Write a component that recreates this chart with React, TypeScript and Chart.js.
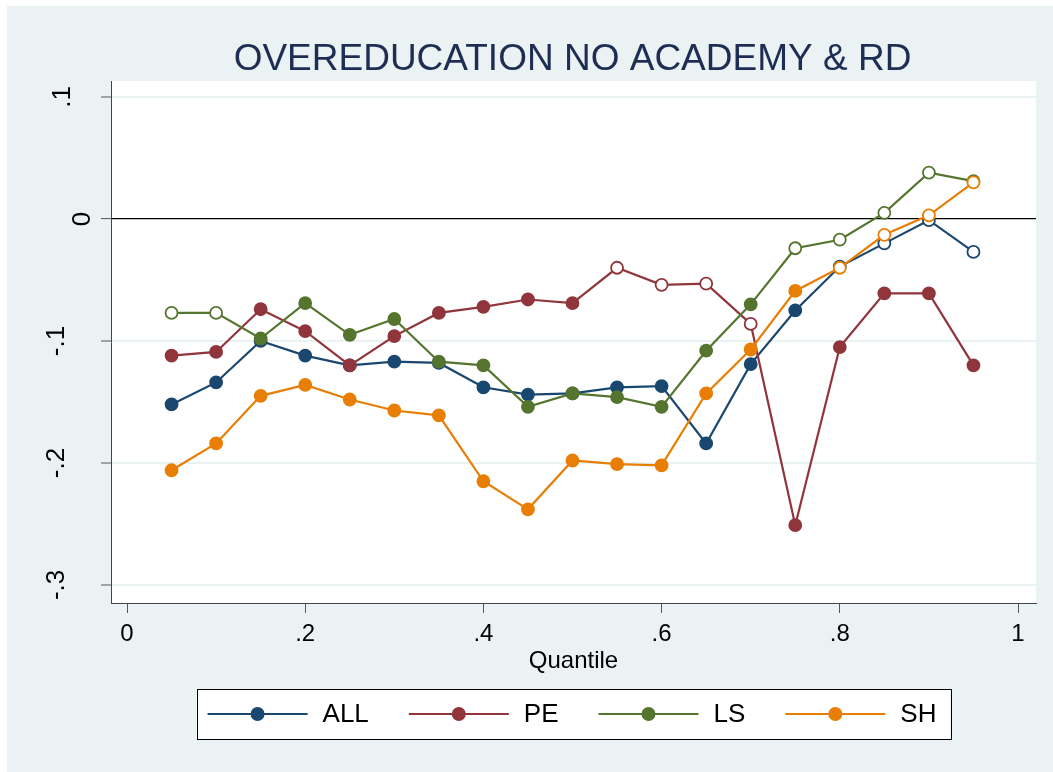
import React, { useEffect, useRef } from 'react';
import { Chart, registerables } from 'chart.js';

Chart.register(...registerables);

const chartTitle = 'OVEREDUCATION NO ACADEMY & RD';
const xAxisTitle = 'Quantile';

const quantiles = [0.05, 0.1, 0.15, 0.2, 0.25, 0.3, 0.35, 0.4, 0.45, 0.5, 0.55, 0.6, 0.65, 0.7, 0.75, 0.8, 0.85, 0.9, 0.95];

const allValues = [-0.152, -0.134, -0.100, -0.112, -0.120, -0.117, -0.118, -0.138, -0.144, -0.143, -0.138, -0.137, -0.184, -0.119, -0.075, -0.039, -0.020, -0.001, -0.027];
const peValues = [-0.112, -0.109, -0.074, -0.092, -0.120, -0.096, -0.077, -0.072, -0.066, -0.069, -0.040, -0.054, -0.053, -0.086, -0.251, -0.105, -0.061, -0.061, -0.120];
const lsValues = [-0.077, -0.077, -0.098, -0.069, -0.095, -0.082, -0.117, -0.120, -0.154, -0.143, -0.146, -0.154, -0.108, -0.070, -0.024, -0.017, 0.005, 0.038, 0.031];
const shValues = [-0.206, -0.184, -0.145, -0.136, -0.148, -0.157, -0.161, -0.215, -0.238, -0.198, -0.201, -0.202, -0.143, -0.107, -0.059, -0.040, -0.013, 0.003, 0.030];

// true = hollow marker (not significant)
const allHollow = [false, false, false, false, false, false, false, false, false, false, false, false, false, false, false, true, true, true, true];
const peHollow = [false, false, false, false, false, false, false, false, false, false, true, true, true, true, false, false, false, false, false];
const lsHollow = [true, true, false, false, false, false, false, false, false, false, false, false, false, false, true, true, true, true, true];
const shHollow = [false, false, false, false, false, false, false, false, false, false, false, false, false, false, false, true, true, true, true];

const seriesNames = ['ALL', 'PE', 'LS', 'SH'];
const seriesColors = ['#1a476f', '#90353b', '#55752f', '#e87e04'];

const xTicks = [0, 0.2, 0.4, 0.6, 0.8, 1];
const xTickLabels = ['0', '.2', '.4', '.6', '.8', '1'];
const yTicks = [-0.3, -0.2, -0.1, 0, 0.1];
const yTickLabels = ['-.3', '-.2', '-.1', '0', '.1'];

const FONT = '"Liberation Sans", Arial, Helvetica, sans-serif';
const BG = '#eaf2f3';

const seriesValues = [allValues, peValues, lsValues, shValues];
const seriesHollow = [allHollow, peHollow, lsHollow, shHollow];

const decorPlugin = {
  id: 'decor',
  beforeDraw(chart: any) {
    const { ctx, chartArea, width, height } = chart;
    ctx.save();
    ctx.fillStyle = '#ffffff';
    ctx.fillRect(0, 0, width, height);
    ctx.fillStyle = BG;
    ctx.fillRect(7, 6, width - 7, height - 6);
    ctx.fillStyle = '#ffffff';
    ctx.fillRect(chartArea.left, chartArea.top, chartArea.right - chartArea.left, chartArea.bottom - chartArea.top);
    ctx.restore();
  },
  afterDraw(chart: any) {
    const { ctx, chartArea } = chart;
    const cx = (chartArea.left + chartArea.right) / 2;
    ctx.save();
    // title
    ctx.fillStyle = '#1e2d53';
    ctx.font = `37px ${FONT}`;
    ctx.textAlign = 'center';
    ctx.textBaseline = 'alphabetic';
    ctx.fillText(chartTitle, cx - 1, 70);

    // y tick labels, rotated
    const yScale = chart.scales.y;
    const baselineByLen: Record<number, number> = { 1: 90, 2: 70, 3: 64 };
    ctx.fillStyle = '#000';
    ctx.font = `26px ${FONT}`;
    yTicks.forEach((v, i) => {
      const label = yTickLabels[i];
      const py = yScale.getPixelForValue(v);
      const bx = baselineByLen[label.length] ?? 64;
      ctx.save();
      ctx.translate(bx, py);
      ctx.rotate(-Math.PI / 2);
      ctx.textAlign = 'center';
      ctx.textBaseline = 'alphabetic';
      ctx.fillText(label, 0, 0);
      ctx.restore();
    });

    // x axis title
    ctx.font = `24px ${FONT}`;
    ctx.textAlign = 'center';
    ctx.textBaseline = 'alphabetic';
    ctx.fillText(xAxisTitle, cx, 668);

    // legend
    ctx.font = `26px ${FONT}`;
    const lineLen = 100;
    const textGap = 15;
    const itemGap = 40;
    const widths = seriesNames.map((n) => ctx.measureText(n).width);
    const content = widths.reduce((a, w) => a + lineLen + textGap + w, 0) + itemGap * (seriesNames.length - 1);
    const padL = 11;
    const padR = 14;
    const boxW = content + padL + padR;
    const boxX = cx - boxW / 2;
    const boxY = 689;
    const boxH = 50;
    const my = boxY + boxH / 2;
    ctx.fillStyle = '#ffffff';
    ctx.fillRect(boxX, boxY, boxW, boxH);
    ctx.strokeStyle = '#000';
    ctx.lineWidth = 1;
    ctx.strokeRect(Math.round(boxX) + 0.5, boxY + 0.5, Math.round(boxW), boxH);
    let x = boxX + padL;
    seriesNames.forEach((name, i) => {
      const color = seriesColors[i];
      ctx.strokeStyle = color;
      ctx.lineWidth = 2.2;
      ctx.beginPath();
      ctx.moveTo(x, my);
      ctx.lineTo(x + lineLen, my);
      ctx.stroke();
      ctx.fillStyle = color;
      ctx.beginPath();
      ctx.arc(x + lineLen / 2, my, 7, 0, Math.PI * 2);
      ctx.fill();
      ctx.fillStyle = '#000';
      ctx.textAlign = 'left';
      ctx.textBaseline = 'middle';
      ctx.fillText(name, x + lineLen + textGap, my + 1);
      x += lineLen + textGap + widths[i] + itemGap;
    });
    ctx.restore();
  },
};

export default function App() {
  const canvasRef = useRef<HTMLCanvasElement | null>(null);

  useEffect(() => {
    const canvas = canvasRef.current;
    if (!canvas) return;
    const datasets = seriesNames.map((name, si) => {
      const color = seriesColors[si];
      const hollow = seriesHollow[si];
      return {
        label: name,
        data: quantiles.map((q, i) => ({ x: q, y: seriesValues[si][i] })),
        borderColor: color,
        borderWidth: 2.2,
        backgroundColor: color,
        pointRadius: 6,
        pointBorderWidth: 1.8,
        pointBorderColor: color,
        pointBackgroundColor: (c: any) => (hollow[c.dataIndex] ? '#ffffff' : color),
        tension: 0,
        fill: false,
        order: seriesNames.length - si,
      };
    });

    const chart = new Chart(canvas, {
      type: 'line',
      data: { datasets },
      options: {
        animation: false,
        responsive: false,
        devicePixelRatio: 1,
        layout: { padding: { left: 0, top: 81, right: 17, bottom: 0 } },
        plugins: {
          legend: { display: false },
          title: { display: false },
          tooltip: { enabled: false },
        },
        scales: {
          x: {
            type: 'linear',
            min: -0.01796,
            max: 1.0202,
            afterBuildTicks: (scale: any) => {
              scale.ticks = xTicks.map((v) => ({ value: v }));
            },
            afterFit: (scale: any) => {
              scale.height = 169;
            },
            ticks: {
              autoSkip: false,
              maxRotation: 0,
              minRotation: 0,
              padding: 7,
              color: '#000',
              font: { size: 24, family: FONT },
              callback: (_v: any, i: number) => xTickLabels[i],
            },
            grid: {
              drawOnChartArea: false,
              drawTicks: true,
              tickLength: 10,
              tickColor: '#555',
              tickWidth: 1,
            },
            border: { color: '#444', width: 1 },
          },
          y: {
            type: 'linear',
            min: -0.3148,
            max: 0.1131,
            afterBuildTicks: (scale: any) => {
              scale.ticks = yTicks.map((v) => ({ value: v }));
            },
            afterFit: (scale: any) => {
              scale.width = 111;
            },
            ticks: { display: false },
            grid: {
              drawOnChartArea: true,
              drawTicks: true,
              tickLength: 10,
              tickColor: '#555',
              tickWidth: 1,
              color: (c: any) => (c.tick && c.tick.value === 0 ? '#000000' : BG),
              lineWidth: (c: any) => (c.tick && c.tick.value === 0 ? 1.2 : 2),
            },
            border: { color: '#444', width: 1 },
          },
        },
      },
      plugins: [decorPlugin],
    });

    return () => {
      chart.destroy();
    };
  }, []);

  return (
    <div style={{ position: 'absolute', left: 0, top: 0, width: 1053, height: 772 }}>
      <canvas ref={canvasRef} width={1053} height={772} style={{ display: 'block' }} />
    </div>
  );
}
